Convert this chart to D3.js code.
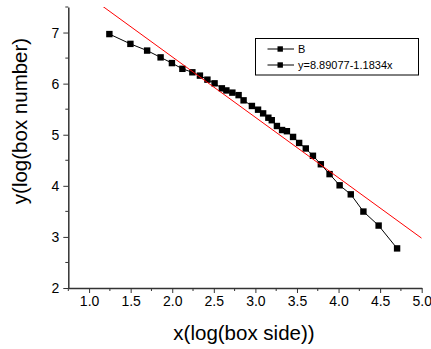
<!DOCTYPE html>
<html><head><meta charset="utf-8">
<script src="https://cdn.jsdelivr.net/npm/d3@7"></script>
<style>body{margin:0;background:#fff}svg{display:block}</style>
</head><body>
<script>
const xValues = [1.244,1.497,1.698,1.86,1.996,2.122,2.242,2.333,2.423,2.509,2.597,2.651,2.723,2.798,2.858,2.958,3.032,3.093,3.156,3.197,3.259,3.321,3.379,3.453,3.526,3.606,3.692,3.787,3.892,4.013,4.147,4.299,4.482,4.704];
const yValues = [6.97,6.778,6.647,6.514,6.402,6.29,6.222,6.157,6.078,6.006,5.908,5.867,5.824,5.775,5.673,5.563,5.49,5.418,5.333,5.284,5.171,5.092,5.069,4.957,4.839,4.731,4.588,4.422,4.229,4.01,3.833,3.496,3.222,2.775];
const fitIntercept = 8.89077, fitSlope = -1.1834;
const xTicks = [1.0,1.5,2.0,2.5,3.0,3.5,4.0,4.5,5.0];
const yTicks = [2,3,4,5,6,7];
const legendLabels = ["B","y=8.89077-1.1834x"];

const W=431,H=349;
const m={left:68.3,right:9.3,top:7,bottom:61};
const svg=d3.select("body").append("svg").attr("width",W).attr("height",H);
const x=d3.scaleLinear().domain([0.75,5.0]).range([m.left,W-m.right]);
const y=d3.scaleLinear().domain([2,7.5]).range([H-m.bottom,m.top]);
const font="Liberation Sans, Arial, sans-serif";

svg.append("defs").append("clipPath").attr("id","clip").append("rect")
  .attr("x",m.left).attr("y",m.top).attr("width",W-m.right-m.left).attr("height",H-m.bottom-m.top);

// minor ticks
const xMinor=d3.range(0.75,5.001,0.25).filter(v=>!xTicks.some(t=>Math.abs(t-v)<1e-6));
const yMinor=d3.range(2.5,7.6,1);
const gx=svg.append("g").attr("transform",`translate(0,${H-m.bottom})`);
gx.call(d3.axisBottom(x).tickValues(xTicks).tickFormat(d3.format(".1f")).tickSizeInner(5).tickSizeOuter(0).tickPadding(3));
gx.selectAll(".minor").data(xMinor).enter().append("line").attr("class","minor")
  .attr("x1",d=>x(d)).attr("x2",d=>x(d)).attr("y1",0).attr("y2",3).attr("stroke","#333").attr("stroke-width",1);
const gy=svg.append("g").attr("transform",`translate(${m.left},0)`);
gy.call(d3.axisLeft(y).tickValues(yTicks).tickFormat(d3.format("d")).tickSizeInner(5).tickSizeOuter(0).tickPadding(4));
gy.selectAll(".minor").data(yMinor).enter().append("line").attr("class","minor")
  .attr("y1",d=>y(d)).attr("y2",d=>y(d)).attr("x1",0).attr("x2",-3).attr("stroke","#333").attr("stroke-width",1);
[gx,gy].forEach(g=>{
  g.select(".domain").attr("stroke","#333").attr("stroke-width",1.5);
  g.selectAll(".tick line").attr("stroke","#333").attr("stroke-width",1);
  g.selectAll(".tick text").attr("font-family",font).attr("font-size",14).attr("fill","#000");
});

// data line
const pts=xValues.map((v,i)=>[v,yValues[i]]);
svg.append("path").datum(pts).attr("fill","none").attr("stroke","#000").attr("stroke-width",1)
  .attr("d",d3.line().x(d=>x(d[0])).y(d=>y(d[1])));
svg.selectAll(".pt").data(pts).enter().append("rect").attr("class","pt")
  .attr("x",d=>x(d[0])-3.2).attr("y",d=>y(d[1])-3.2).attr("width",6.4).attr("height",6.4).attr("fill","#000");

// fit line
svg.append("line").attr("clip-path","url(#clip)")
  .attr("x1",x(0.75)).attr("y1",y(fitIntercept+fitSlope*0.75))
  .attr("x2",x(5.0)).attr("y2",y(fitIntercept+fitSlope*5.0))
  .attr("stroke","#ff0000").attr("stroke-width",1);

// legend
const lg=svg.append("g");
lg.append("rect").attr("x",255.5).attr("y",38.5).attr("width",163).attr("height",36.5)
  .attr("fill","#fff").attr("stroke","#000").attr("stroke-width",1);
legendLabels.forEach((t,i)=>{
  const yy=49+i*16;
  lg.append("line").attr("x1",267.5).attr("x2",294).attr("y1",yy).attr("y2",yy).attr("stroke","#000").attr("stroke-width",1);
  lg.append("rect").attr("x",277.5).attr("y",yy-2.7).attr("width",5.4).attr("height",5.4).attr("fill","#000");
  lg.append("text").attr("x",298).attr("y",yy).attr("dy","0.36em").attr("font-family",font).attr("font-size",11).text(t);
});

// axis titles
svg.append("text").attr("x",244).attr("y",340).attr("text-anchor","middle")
  .attr("font-family",font).attr("font-size",20.5).text("x(log(box side))");
svg.append("text").attr("transform",`translate(27,121) rotate(-90)`).attr("text-anchor","middle")
  .attr("font-family",font).attr("font-size",20.5).text("y(log(box number)");
</script>
</body></html>
